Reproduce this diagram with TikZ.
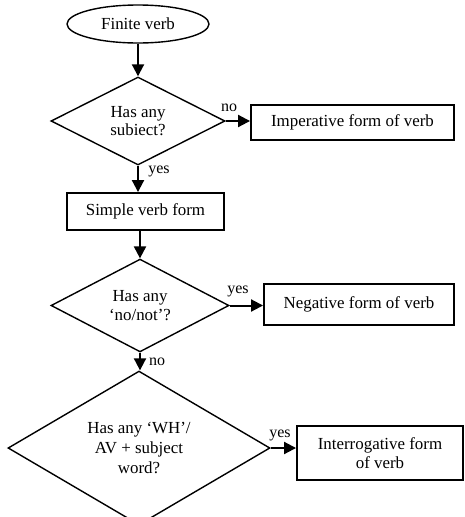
\documentclass[tikz,border=0pt]{standalone}
\usepackage{fontspec}
\setmainfont{Liberation Serif}
\usetikzlibrary{shapes.geometric,arrows.meta}
\begin{document}
\begin{tikzpicture}[x=1pt,y=-1pt,
  every node/.style={font=\fontsize{16.9}{19.6}\selectfont},
  terminal/.style={ellipse,draw,line width=1.4pt,inner sep=0pt,
    minimum width=142pt,minimum height=38pt},
  decision/.style={diamond,draw,line width=1.4pt,inner sep=0pt,align=center},
  process/.style={rectangle,draw,line width=1.9pt,inner sep=0pt,align=center},
  flow/.style={line width=2pt,-{Triangle[length=12pt,width=12pt]}},
  tag/.style={anchor=base,inner sep=0pt,font=\fontsize{16}{18}\selectfont}]
  \useasboundingbox (0,0) rectangle (464,517);

  \node[terminal] (start) at (138,24) {Finite verb};
  \node[decision,minimum width=174pt,minimum height=88pt,
        font=\fontsize{16.9}{18.2}\selectfont] (subj) at (138,121)
    {Has any\\subiect?};
  \node[process,minimum width=203pt,minimum height=35pt] (imp) at (352.5,122.5)
    {Imperative form of verb};
  \node[process,minimum width=157pt,minimum height=37pt] (simple) at (145.5,211.5)
    {Simple verb form};
  \node[decision,minimum width=178pt,minimum height=87pt] (neg) at (140,305.5)
    {Has any\\`no/not'?};
  \node[process,minimum width=190pt,minimum height=41pt] (negform) at (359,304.5)
    {Negative form of verb};
  \node[decision,minimum width=262pt,minimum height=133pt] (wh) at (139,448)
    {Has any `WH'/\\AV + subject\\word?};
  \node[process,minimum width=166pt,minimum height=54pt] (inter) at (380,453)
    {Interrogative form\\of verb};

  \draw[flow] (start.south) -- (subj.north);
  \draw[flow] (subj.east) -- (imp.west |- subj.east);
  \draw[flow] (subj.south) -- (subj.south |- simple.north);
  \draw[flow] (neg.north |- simple.south) -- (neg.north);
  \draw[flow] (neg.east) -- (negform.west |- neg.east);
  \draw[flow] (neg.south) -- (neg.south |- wh.north);
  \draw[flow] (wh.east) -- (inter.west |- wh.east);

  \node[tag] (l1) at (229,111) {no};
  \node[tag] (l2) at (159,173) {yes};
  \node[tag] (l3) at (238,293) {yes};
  \node[tag] (l4) at (157,365) {no};
  \node[tag] (l5) at (280,437) {yes};
\end{tikzpicture}
\end{document}
